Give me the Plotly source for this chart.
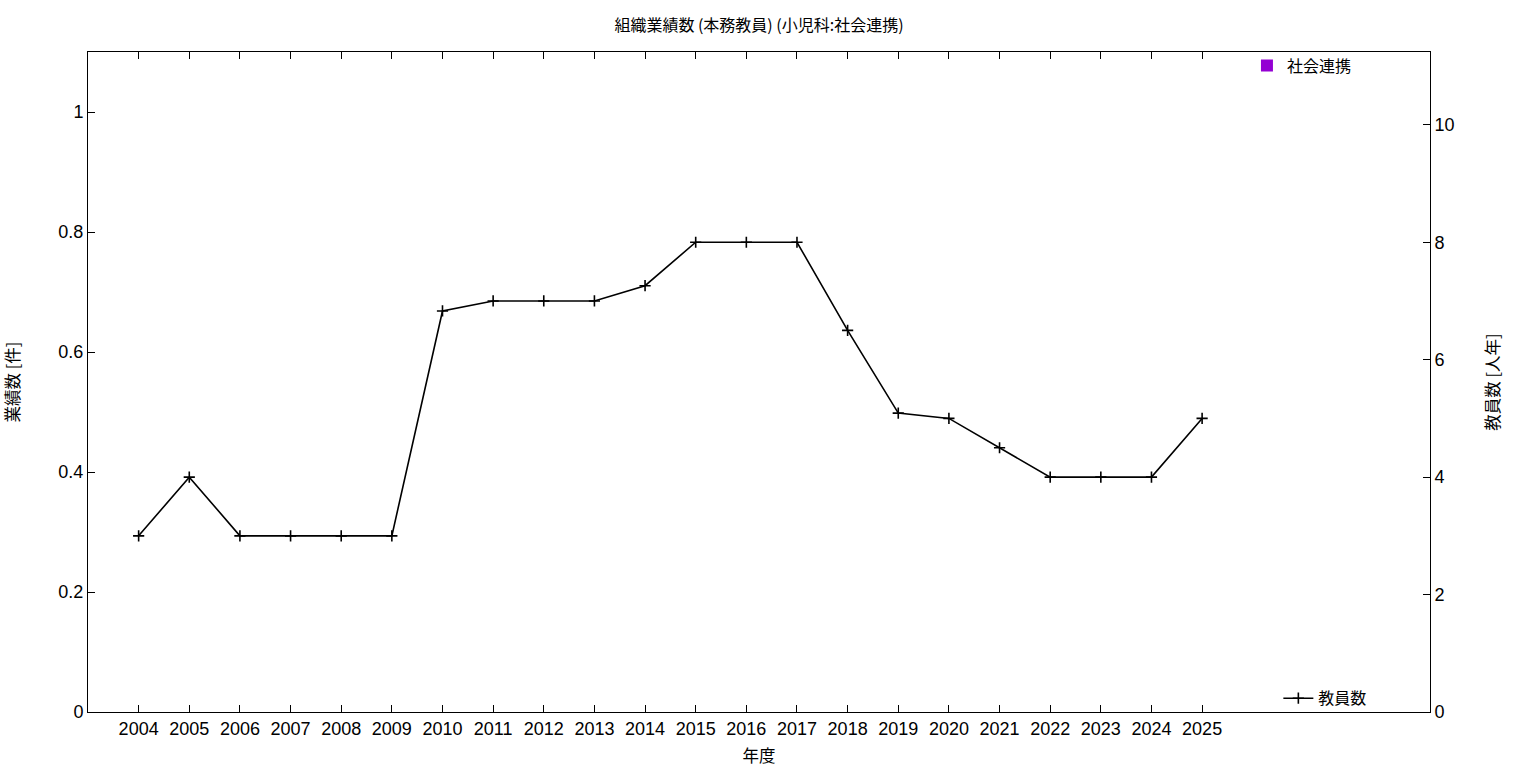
import plotly.graph_objects as go

years = [2004, 2005, 2006, 2007, 2008, 2009, 2010, 2011, 2012, 2013, 2014,
         2015, 2016, 2017, 2018, 2019, 2020, 2021, 2022, 2023, 2024, 2025]
outreach_counts = [0] * len(years)  # 社会連携
faculty_counts = [3, 4, 3, 3, 3, 3, 6.83, 7, 7, 7, 7.26,
                  8, 8, 8, 6.5, 5.09, 5, 4.5, 4, 4, 4, 5]  # 教員数

FONT = "Noto Sans CJK JP"
TICKFONT = "Liberation Sans"

fig = go.Figure()
fig.add_trace(go.Bar(
    x=years, y=outreach_counts, name="社会連携",
    marker=dict(color="#9400D3", line=dict(color="black", width=0)),
    width=0.5, legend="legend", yaxis="y",
))
fig.add_trace(go.Scatter(
    x=years, y=faculty_counts, name="教員数", mode="lines+markers",
    line=dict(color="black", width=1.6),
    marker=dict(symbol="cross-thin", size=8, color="black",
                line=dict(color="black", width=1.6)),
    legend="legend2", yaxis="y2",
))

axis_common = dict(showgrid=False, zeroline=False, showline=True,
                   linecolor="black", linewidth=1, ticks="inside",
                   ticklen=7, tickcolor="black", automargin=False,
                   tickfont=dict(family=TICKFONT, size=18, color="black"))

fig.update_layout(
    width=1536, height=768,
    margin=dict(l=88, r=106, t=52, b=56),
    plot_bgcolor="white", paper_bgcolor="white",
    font=dict(family=FONT, color="black"),
    title=dict(text="組織業績数 (本務教員) (小児科:社会連携)", xref="paper", x=0.5,
               xanchor="center", yref="container", y=0.9674, yanchor="middle",
               font=dict(size=16, family=FONT)),
    xaxis=dict(**axis_common, range=[2003, 2029.5], tickmode="array",
               tickvals=years, ticktext=[str(y) for y in years], mirror="ticks",
               title=dict(text="年度", font=dict(size=16.5), standoff=12)),
    yaxis=dict(**axis_common, range=[0, 1.1], tickvals=[0, 0.2, 0.4, 0.6, 0.8, 1],
               ticktext=["0", "0.2", "0.4", "0.6", "0.8", "1"],
               title=dict(text="業績数 [件]", font=dict(size=16.5), standoff=34)),
    yaxis2=dict(**axis_common, range=[0, 11.24], overlaying="y", side="right",
                tickvals=[0, 2, 4, 6, 8, 10], anchor="x",
                title=dict(text="教員数 [人年]", font=dict(size=16.5), standoff=33)),
    legend=dict(x=0.8636, y=1.005, xanchor="left", yanchor="top",
                bgcolor="rgba(0,0,0,0)", font=dict(size=16, family=FONT)),
    legend2=dict(x=0.887, y=-0.005, xanchor="left", yanchor="bottom",
                 bgcolor="rgba(0,0,0,0)", font=dict(size=16, family=FONT)),
    showlegend=True,
)

fig.write_html("out.html",
               config={"displayModeBar": False},
               post_script="document.body.style.margin='0';"
                           "document.body.style.overflow='hidden';")
